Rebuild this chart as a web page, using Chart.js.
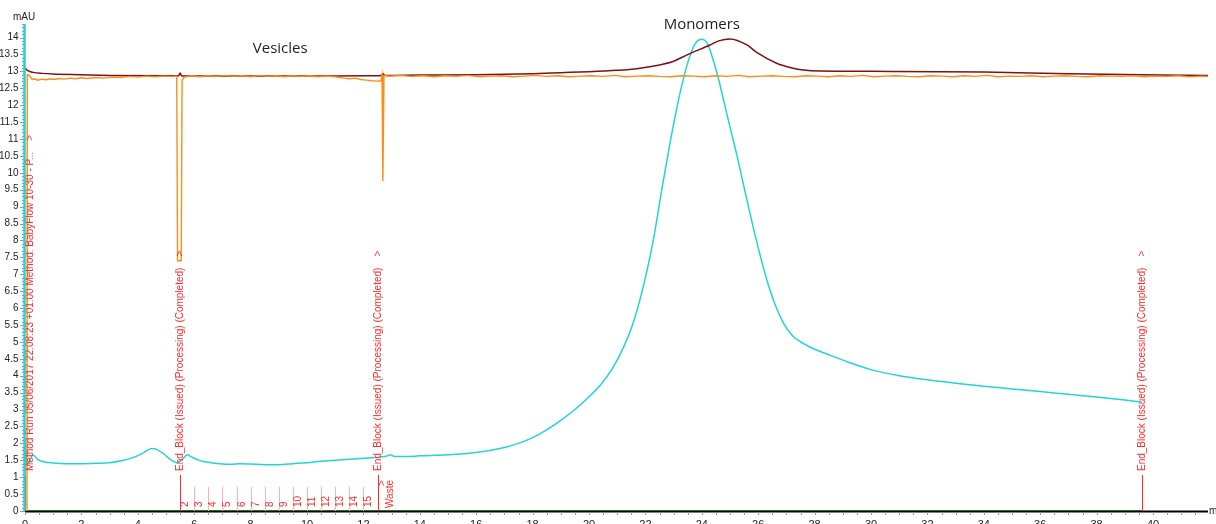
<!DOCTYPE html>
<html><head><meta charset="utf-8">
<script src="https://cdn.jsdelivr.net/npm/chart.js@4.4.0/dist/chart.umd.min.js"></script>
<style>html,body{margin:0;padding:0;background:#fff;overflow:hidden}#wrap{width:1216px;height:524px;position:relative}</style>
</head><body><div id="wrap"><canvas id="c" width="1216" height="524"></canvas></div>
<script>
// ---------- data ----------
const uvTime = [0, 0.02, 0.06, 0.15, 0.28, 0.45, 0.7, 1, 1.5, 2, 2.5, 3, 3.5, 3.9, 4.2, 4.49, 4.65, 4.9, 5.15, 5.38, 5.55, 5.76, 5.9, 6.2, 6.6, 7, 7.33, 7.6, 8, 8.5, 9, 9.5, 10, 10.5, 11, 11.5, 12, 12.4, 12.6, 12.8, 12.94, 13.1, 13.5, 14, 15, 16, 17, 17.5, 18, 18.5, 19, 19.5, 20, 20.4, 20.8, 21.2, 21.6, 22.0, 22.3, 22.6, 22.9, 23.2, 23.5, 23.75, 24.0, 24.2, 24.4, 24.6, 24.8, 25.0, 25.25, 25.6, 25.95, 26.3, 26.6, 26.9, 27.2, 27.5, 27.9, 28.5, 29.2, 30, 31, 32, 33, 34, 35, 36, 37, 38, 39, 39.6];
const uvValue = [1.1, 2.1, 1.38, 1.45, 1.66, 1.52, 1.45, 1.42, 1.4, 1.4, 1.41, 1.43, 1.5, 1.6, 1.72, 1.85, 1.83, 1.7, 1.53, 1.43, 1.5, 1.66, 1.6, 1.49, 1.43, 1.39, 1.38, 1.4, 1.39, 1.37, 1.37, 1.4, 1.43, 1.47, 1.5, 1.53, 1.56, 1.58, 1.6, 1.62, 1.66, 1.61, 1.61, 1.63, 1.66, 1.73, 1.88, 2.0, 2.17, 2.4, 2.68, 3.0, 3.38, 3.72, 4.17, 4.8, 5.65, 6.9, 8.1, 9.6, 11.0, 12.25, 13.25, 13.8, 13.95, 13.82, 13.35, 12.75, 12.05, 11.35, 10.5, 9.2, 7.95, 6.85, 6.1, 5.55, 5.2, 5.0, 4.82, 4.62, 4.4, 4.18, 4.0, 3.88, 3.78, 3.69, 3.61, 3.53, 3.45, 3.37, 3.28, 3.22];

const condTime = [0, 0.1, 0.3, 0.6, 1, 2, 3, 5, 5.45, 5.5, 5.56, 6, 8, 10, 12, 12.65, 12.7, 12.76, 14, 16, 18, 19, 20, 21, 21.35, 22.5, 23, 23.46, 24.29, 24.6, 25, 25.6, 25.96, 26.65, 27.2, 27.6, 28.2, 30, 34, 37, 41.95];
const condValue = [13.1, 13.02, 12.97, 12.94, 12.92, 12.9, 12.88, 12.87, 12.87, 12.95, 12.86, 12.86, 12.86, 12.86, 12.87, 12.88, 12.93, 12.88, 12.89, 12.9, 12.93, 12.96, 12.99, 13.03, 13.05, 13.19, 13.3, 13.48, 13.78, 13.9, 13.96, 13.78, 13.55, 13.24, 13.1, 13.04, 13.01, 13.0, 12.98, 12.93, 12.88];

const concTime = [0.07, 0.08, 0.15, 0.25, 0.35, 0.45, 0.6, 0.75, 0.9, 1.05, 1.2, 1.4, 1.6, 1.8, 2.0, 2.2, 2.5, 2.8, 3.1, 3.4, 3.7, 4.0, 4.3, 4.6, 4.9, 5.2, 5.38, 5.41, 5.54, 5.57, 5.65, 5.9, 6.2, 6.5, 6.8, 7.1, 7.4, 7.7, 8.0, 8.3, 8.6, 8.9, 9.2, 9.5, 9.8, 10.1, 10.4, 10.7, 11.0, 11.3, 11.5, 11.7, 11.9, 12.1, 12.3, 12.5, 12.62, 12.66, 12.69, 12.73, 12.9, 13.3, 13.7, 14.1, 14.5, 14.9, 15.3, 15.7, 16.1, 16.5, 16.9, 17.3, 17.7, 18.1, 18.5, 18.9, 19.3, 19.7, 20.1, 20.5, 20.9, 21.3, 21.7, 22.1, 22.5, 22.9, 23.3, 23.7, 24.1, 24.5, 24.9, 25.3, 25.7, 26.1, 26.5, 26.9, 27.3, 27.7, 28.1, 28.5, 28.9, 29.3, 29.7, 30.1, 30.5, 30.9, 31.3, 31.7, 32.1, 32.5, 32.9, 33.3, 33.7, 34.1, 34.5, 34.9, 35.3, 35.7, 36.1, 36.5, 36.9, 37.3, 37.7, 38.1, 38.5, 38.9, 39.3, 39.7, 40.1, 40.5, 40.9, 41.3, 41.7, 41.95];
const concValue = [0, 12.9, 12.88, 12.76, 12.78, 12.74, 12.77, 12.75, 12.78, 12.76, 12.79, 12.77, 12.8, 12.78, 12.81, 12.79, 12.82, 12.8, 12.83, 12.82, 12.85, 12.83, 12.86, 12.84, 12.86, 12.85, 12.86, 7.4, 7.4, 12.74, 12.83, 12.87, 12.84, 12.87, 12.85, 12.88, 12.85, 12.87, 12.84, 12.88, 12.85, 12.87, 12.84, 12.87, 12.85, 12.87, 12.84, 12.86, 12.84, 12.8, 12.78, 12.8, 12.76, 12.74, 12.72, 12.71, 12.72, 12.88, 9.76, 12.88, 12.86, 12.88, 12.85, 12.87, 12.84, 12.87, 12.85, 12.88, 12.84, 12.86, 12.87, 12.84, 12.86, 12.88, 12.85, 12.87, 12.84, 12.86, 12.87, 12.85, 12.88, 12.84, 12.86, 12.87, 12.85, 12.84, 12.87, 12.86, 12.84, 12.87, 12.85, 12.88, 12.84, 12.86, 12.87, 12.85, 12.84, 12.87, 12.86, 12.84, 12.87, 12.85, 12.88, 12.84, 12.86, 12.87, 12.85, 12.84, 12.87, 12.86, 12.84, 12.87, 12.85, 12.88, 12.84, 12.86, 12.85, 12.87, 12.84, 12.86, 12.87, 12.85, 12.84, 12.87, 12.86, 12.85, 12.87, 12.84, 12.86, 12.85, 12.87, 12.84, 12.86, 12.85];

const baseTime = [0, 39.6];
const baseValue = [0, 0];

const xTickValues = [0, 2, 4, 6, 8, 10, 12, 14, 16, 18, 20, 22, 24, 26, 28, 30, 32, 34, 36, 38, 40];
const yTickValues = [0, 0.5, 1, 1.5, 2, 2.5, 3, 3.5, 4, 4.5, 5, 5.5, 6, 6.5, 7, 7.5, 8, 8.5, 9, 9.5, 10, 10.5, 11, 11.5, 12, 12.5, 13, 13.5, 14];

const eventTime = [0, 5.5, 12.5, 39.6];
const eventText = [
  "Method Run 05/06/2017 22:08:23 +01:00 Method: BabyFlow 10-30 - P...",
  "End_Block (Issued) (Processing) (Completed)",
  "End_Block (Issued) (Processing) (Completed)",
  "End_Block (Issued) (Processing) (Completed)"
];
const fractionTime = [5.5, 6, 6.5, 7, 7.5, 8, 8.5, 9, 9.5, 10, 10.5, 11, 11.5, 12, 12.5];
const fractionLabel = ["2", "3", "4", "5", "6", "7", "8", "9", "10", "11", "12", "13", "14", "15", "Waste"];

const peakLabels = ["Vesicles", "Monomers"];
const peakLabelTime = [9.05, 24.0];
const peakLabelValue = [13.66, 14.38];

const X_MAX = 41.95, Y_MAX = 14.4;
const pts = (xs, ys) => xs.map((x, i) => ({x: x, y: ys[i]}));

const RED = '#ff2a2a';
const AXFONT = '10px "Liberation Sans", Arial, sans-serif';
const XFONT = '11px "Liberation Sans", Arial, sans-serif';

const decor = {
  id: 'decor',
  beforeDatasetsDraw(chart) {
    const {ctx, chartArea: a, scales: {x, y}} = chart;
    ctx.save();
    // x axis
    ctx.strokeStyle = '#000'; ctx.lineWidth = 2;
    ctx.beginPath(); ctx.moveTo(a.left, a.bottom + 0.5); ctx.lineTo(a.right, a.bottom + 0.5); ctx.stroke();
    ctx.strokeStyle = '#9a9a9a'; ctx.lineWidth = 1;
    for (let i = 0; i * 0.5 <= X_MAX; i++) {
      const px = Math.round(x.getPixelForValue(i * 0.5)) + 0.5;
      ctx.beginPath(); ctx.moveTo(px, a.bottom + 1); ctx.lineTo(px, a.bottom + 4); ctx.stroke();
    }
    ctx.fillStyle = '#222'; ctx.font = XFONT; ctx.textAlign = 'center'; ctx.textBaseline = 'alphabetic';
    xTickValues.forEach(v => ctx.fillText(String(v), x.getPixelForValue(v), a.bottom + 16.5));
    ctx.font = AXFONT;
    ctx.textAlign = 'left'; ctx.textBaseline = 'middle';
    ctx.fillText('min', a.right + 1, a.bottom);
    // y ticks
    ctx.strokeStyle = '#9a9a9a';
    for (let i = 0; i * 0.1 <= Y_MAX + 1e-9; i++) {
      const py = Math.round(y.getPixelForValue(i * 0.1)) + 0.5;
      const len = (i % 5 === 0) ? 5 : 3;
      ctx.beginPath(); ctx.moveTo(a.left - len, py); ctx.lineTo(a.left, py); ctx.stroke();
    }
    ctx.fillStyle = '#222'; ctx.textAlign = 'right'; ctx.textBaseline = 'middle';
    yTickValues.forEach(v => ctx.fillText(String(v), a.left - 6.5, y.getPixelForValue(v)));
    ctx.textAlign = 'center';
    ctx.fillText('mAU', a.left - 1, 17);
    ctx.restore();
  },
  afterDatasetsDraw(chart) {
    const {ctx, chartArea: a, scales: {x, y}} = chart;
    ctx.save();
    // fraction marks
    ctx.lineWidth = 1;
    fractionTime.forEach((t, i) => {
      const px = Math.round(x.getPixelForValue(t)) + 0.5;
      const lab = fractionLabel[i];
      ctx.strokeStyle = '#ffb0b0';
      ctx.beginPath(); ctx.moveTo(px, a.bottom); ctx.lineTo(px, a.bottom - 24); ctx.stroke();
      ctx.fillStyle = RED; ctx.font = AXFONT;
      if (lab === 'Waste') {
        ctx.save(); ctx.translate(px + 4, a.bottom - 28); ctx.rotate(-Math.PI / 2);
        ctx.textAlign = 'center'; ctx.textBaseline = 'middle'; ctx.fillText('>', 0, 0); ctx.restore();
        ctx.save(); ctx.translate(px + 12, a.bottom - 3); ctx.rotate(-Math.PI / 2);
        ctx.textAlign = 'left'; ctx.textBaseline = 'middle'; ctx.fillText(lab, 0, 0); ctx.restore();
      } else {
        ctx.save(); ctx.translate(px + 4.5, a.bottom - 4); ctx.rotate(-Math.PI / 2);
        ctx.textAlign = 'left'; ctx.textBaseline = 'middle'; ctx.fillText(lab, 0, 0); ctx.restore();
      }
    });
    // events
    eventTime.forEach((t, i) => {
      const px = Math.round(x.getPixelForValue(t)) + 0.5;
      ctx.strokeStyle = RED; ctx.lineWidth = 1;
      ctx.beginPath(); ctx.moveTo(px, a.bottom); ctx.lineTo(px, a.bottom - 36); ctx.stroke();
      const tx = (t === 0) ? px + 5 : px;
      ctx.save(); ctx.translate(tx, a.bottom - 40); ctx.rotate(-Math.PI / 2);
      ctx.fillStyle = RED; ctx.font = AXFONT; ctx.textAlign = 'left'; ctx.textBaseline = 'middle';
      ctx.fillText(eventText[i] + '    >', 0, 0);
      ctx.restore();
    });
    // cyan y axis
    ctx.strokeStyle = '#22d4d8'; ctx.lineWidth = 2.5;
    ctx.beginPath(); ctx.moveTo(a.left - 0.5, a.bottom); ctx.lineTo(a.left - 0.5, a.top); ctx.stroke();
    // peak labels
    ctx.fillStyle = '#1e1e1e'; ctx.font = '15px "Open Sans", sans-serif';
    ctx.textAlign = 'center'; ctx.textBaseline = 'middle';
    peakLabels.forEach((s, i) => ctx.fillText(s, x.getPixelForValue(peakLabelTime[i]), y.getPixelForValue(peakLabelValue[i])));
    ctx.restore();
  }
};

new Chart(document.getElementById('c'), {
  type: 'line',
  data: {
    datasets: [
      {label: 'Conc', data: pts(concTime, concValue), borderColor: '#ff8c14', borderWidth: 1.4, pointRadius: 0, tension: 0},
      {label: 'Cond', data: pts(condTime, condValue), borderColor: '#7d1214', borderWidth: 1.5, pointRadius: 0, cubicInterpolationMode: 'monotone'},
      {label: 'UV', data: pts(uvTime, uvValue), borderColor: '#22d4d8', borderWidth: 1.5, pointRadius: 0, cubicInterpolationMode: 'monotone'},
      {label: 'Base', data: pts(baseTime, baseValue), borderColor: '#1f6e1f', borderWidth: 2, pointRadius: 0, tension: 0}
    ]
  },
  options: {
    responsive: false, devicePixelRatio: 1, animation: false,
    layout: {padding: {left: 25, right: 8, top: 24, bottom: 13}},
    plugins: {legend: {display: false}, tooltip: {enabled: false}},
    scales: {
      x: {type: 'linear', min: 0, max: X_MAX, display: false},
      y: {type: 'linear', min: 0, max: Y_MAX, display: false}
    }
  },
  plugins: [decor]
});
</script></body></html>
